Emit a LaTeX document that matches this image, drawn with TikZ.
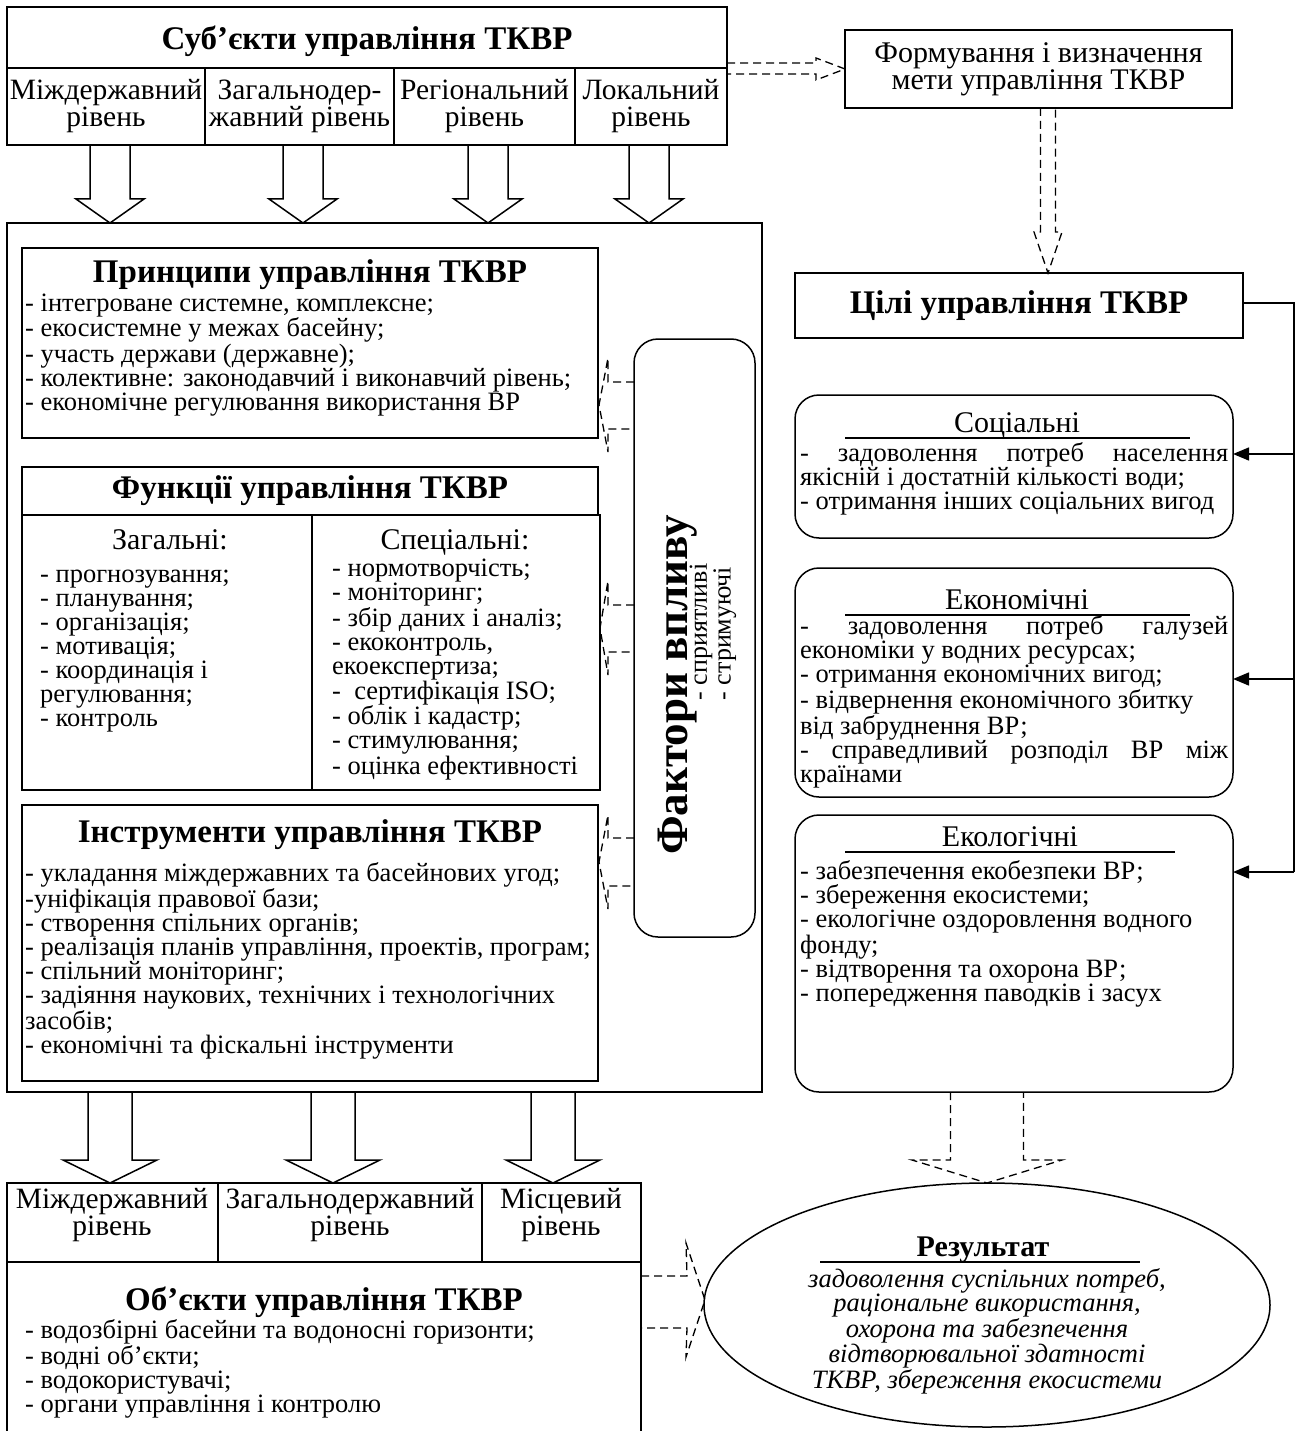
\documentclass[tikz,border=0pt]{standalone}
\usepackage{fontspec}
\setmainfont{Liberation Serif}
\usetikzlibrary{arrows.meta,shapes.geometric}
\newcommand\bx[6][]{\node[frame,#1,minimum width={#4-#2},minimum height={#5-#3}] (#6) at (#2,#3) {};}
\newcommand\dnarr[7][blk]{\draw[#1] ({#2-#6},#3) -- ({#2-#6},#5) -- ({#2-#7},#5) -- (#2,#4) -- ({#2+#7},#5) -- ({#2+#6},#5) -- ({#2+#6},#3);}
\begin{document}
\begin{tikzpicture}[x=1pt,y=-1pt,
 frame/.style={draw,line width=1.5pt,inner sep=0pt,outer sep=0pt,anchor=north west},
 rframe/.style={rounded corners=24pt},
 body/.style={font=\fontsize{26.5}{24}\selectfont,align=left,inner sep=0pt,anchor=base west},
 ttl/.style={font=\fontsize{33}{35}\selectfont\bfseries,inner sep=0pt},
 lvl/.style={font=\fontsize{29.5}{27}\selectfont,align=center,inner sep=0pt},
 hd/.style={font=\fontsize{30}{30}\selectfont,inner sep=0pt,anchor=base},
 blk/.style={draw,line width=1.5pt},
 dblk/.style={draw,line width=1.3pt,dash pattern=on 8pt off 5pt},
 conn/.style={draw,line width=1.5pt},
 ul/.style={draw,line width=1.3pt}]
\useasboundingbox (0,0) rectangle (1296,1431);
\fill[white] (0,0) rectangle (1296,1431);

% ---------- subjects ----------
\bx{7}{7}{727}{68}{subjT}
\node[ttl] (subjTt) at (367,41) {Суб’єкти управління ТКВР};
\bx{7}{68}{205}{145}{lv1}
\bx{205}{68}{394}{145}{lv2}
\bx{394}{68}{575}{145}{lv3}
\bx{575}{68}{727}{145}{lv4}
\node[lvl] (lv1t) at (lv1) {Міждержавний\\рівень};
\node[lvl] (lv2t) at (lv2) {Загальнодер-\\жавний рівень};
\node[lvl] (lv3t) at (lv3) {Регіональний\\рівень};
\node[lvl] (lv4t) at (lv4) {Локальний\\рівень};

\dnarr{110}{145}{223}{199}{20}{34}
\dnarr{303}{145}{223}{199}{20}{34}
\dnarr{488}{145}{223}{199}{20}{34}
\dnarr{649}{145}{223}{199}{20}{34}

% ---------- formation of goal ----------
\bx{845}{30}{1232}{108}{form}
\node[lvl,font=\fontsize{30}{26}\selectfont] (formt) at (form) {Формування і визначення\\мети управління ТКВР};
\draw[dblk] (727,63) -- (816,63) -- (816,58) -- (845,69) -- (816,80) -- (816,74) -- (727,74);
\dnarr[dblk]{1048}{108}{273}{232}{7.5}{14}

% ---------- main box ----------
\bx{7}{223}{762}{1092}{main}

\bx{22}{248}{598}{438}{prin}
\node[ttl] (print) at (310,275) {Принципи управління ТКВР};
\node[body] (prinb) at (25,410) {- інтегроване системне, комплексне;\\- екосистемне у межах басейну;\\- участь держави (державне);\\- колективне: законодавчий і виконавчий рівень;\\- економічне регулювання використання ВР};

\bx{22}{467}{598}{515}{funT}
\node[ttl] (funTt) at (funT) {Функції управління ТКВР};
\bx{22}{515}{312}{790}{gen}
\bx{312}{515}{600}{790}{spec}
\node[hd] (gent) at (170,549) {Загальні:};
\node[body] (genb) at (40,726) {- прогнозування;\\- планування;\\- організація;\\- мотивація;\\- координація і\\регулювання;\\- контроль};
\node[hd] (spect) at (455,549) {Спеціальні:};
\node[body] (specb) at (332,774) {- нормотворчість;\\- моніторинг;\\- збір даних і аналіз;\\- екоконтроль,\\екоекспертиза;\\-\ \ сертифікація ISO;\\- облік і кадастр;\\- стимулювання;\\- оцінка ефективності};

\bx{22}{805}{598}{1081}{inst}
\node[ttl] (instt) at (310,835) {Інструменти управління ТКВР};
\node[body] (instb) at (25,1053) {- укладання міждержавних та басейнових угод;\\-уніфікація правової бази;\\- створення спільних органів;\\- реалізація планів управління, проектів, програм;\\- спільний моніторинг;\\- задіяння наукових, технічних і технологічних\\засобів;\\- економічні та фіскальні інструменти};

% ---------- factors ----------
\bx[rframe]{634}{339}{755}{937}{fact}
\node[font=\fontsize{45}{45}\selectfont\bfseries,rotate=90,inner sep=0pt] (factt) at (678,685) {Фактори впливу};
\node[font=\fontsize{26}{20}\selectfont,rotate=90,inner sep=0pt,align=left] (factb) at (713,632) {- сприятливі\\- стримуючі};
\draw[dblk] (fact.west |- 0,382) -- (608,382) -- (608,358) -- (599,405) -- (608,452) -- (608,429) -- (fact.west |- 0,429);
\draw[dblk] (fact.west |- 0,605) -- (608,605) -- (608,581) -- (600,628) -- (608,675) -- (608,652) -- (fact.west |- 0,652);
\draw[dblk] (fact.west |- 0,838) -- (608,838) -- (608,815) -- (599,862) -- (608,909) -- (608,886) -- (fact.west |- 0,886);

% ---------- goals ----------
\bx{795}{273}{1243}{338}{goals}
\node[ttl] (goalst) at (goals) {Цілі управління ТКВР};

\bx[rframe]{795}{395}{1233}{538}{soc}
\node[hd] (soct) at (1017,432) {Соціальні};
\draw[ul] (845,438) -- (1190,438);
\node[body] (socb) at (800,509) {\makebox[428pt][s]{- задоволення потреб населення}\\якісній і достатній кількості води;\\- отримання інших соціальних вигод};

\bx[rframe]{795}{568}{1233}{797}{econ}
\node[hd] (econt) at (1017,609) {Економічні};
\draw[ul] (845,615) -- (1190,615);
\node[body] (econb) at (800,782) {\makebox[428pt][s]{- задоволення потреб галузей}\\економіки у водних ресурсах;\\- отримання економічних вигод;\\- відвернення економічного збитку\\від забруднення ВР;\\\makebox[428pt][s]{- справедливий розподіл ВР між}\\країнами};

\bx[rframe]{795}{815}{1233}{1092}{eco}
\node[hd] (ecot) at (1010,846) {Екологічні};
\draw[ul] (845,852) -- (1175,852);
\node[body] (ecob) at (800,1001) {- забезпечення екобезпеки ВР;\\- збереження екосистеми;\\- екологічне оздоровлення водного\\фонду;\\- відтворення та охорона ВР;\\- попередження паводків і засух};

\coordinate (gc1) at (1294,303);
\coordinate (gc2) at (1294,872);
\draw[conn] (goals.east |- gc1) -- (gc1) -- (gc2);
\draw[conn,-{Triangle[length=16pt,width=13pt]}] (1294,454) -- (soc.east |- 0,454);
\draw[conn,-{Triangle[length=16pt,width=13pt]}] (1294,679) -- (econ.east |- 0,679);
\draw[conn,-{Triangle[length=16pt,width=13pt]}] (gc2) -- (eco.east |- gc2);

% ---------- result ----------
\node[draw,ellipse,line width=1.5pt,minimum width=566pt,minimum height=244pt,inner sep=0pt] (res) at (987,1305) {};
\node[font=\fontsize{30}{30}\selectfont\bfseries,inner sep=0pt,anchor=base] (rest) at (983,1256) {Результат};
\draw[ul] (820,1262) -- (1140,1262);
\node[font=\fontsize{26.5}{24}\selectfont\itshape,inner sep=0pt,align=center,anchor=base] (resb) at (987,1388) {задоволення суспільних потреб,\\раціональне використання,\\охорона та забезпечення\\відтворювальної здатності\\ТКВР, збереження екосистеми};
\dnarr[dblk]{987}{1092}{1183}{1160}{36.5}{75}

% ---------- objects ----------
\dnarr{110}{1092}{1183}{1160}{22}{47}
\dnarr{333}{1092}{1183}{1160}{22}{47}
\dnarr{553}{1092}{1183}{1160}{22}{47}
\bx{7}{1183}{218}{1262}{ol1}
\bx{218}{1183}{482}{1262}{ol2}
\bx{482}{1183}{641}{1262}{ol3}
\node[lvl] (ol1t) at (112,1215) {Міждержавний\\рівень};
\node[lvl] (ol2t) at (350,1215) {Загальнодержавний\\рівень};
\node[lvl] (ol3t) at (561,1215) {Місцевий\\рівень};
\bx{7}{1262}{641}{1445}{obj}
\node[ttl] (objt) at (324,1302) {Об’єкти управління ТКВР};
\node[body] (objb) at (25,1412) {- водозбірні басейни та водоносні горизонти;\\- водні об’єкти;\\- водокористувачі;\\- органи управління і контролю};
\draw[dblk] (641,1276) -- (687,1276) -- (686,1243) -- (705,1300) -- (686,1357) -- (687,1328) -- (641,1328);
\end{tikzpicture}
\end{document}
